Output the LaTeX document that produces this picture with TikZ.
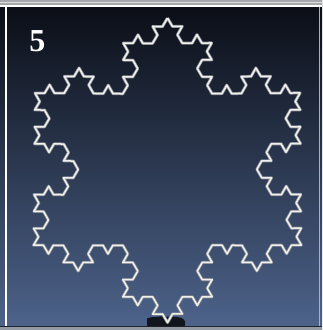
\documentclass[tikz,border=0pt]{standalone}
\usepackage{color}
\usepackage{tikz}
\usepackage{fontspec}
\setmainfont{Liberation Serif}
\usetikzlibrary{decorations.fractals}
\definecolor{slidetop}{RGB}{9,12,20}
\definecolor{slidemid}{RGB}{36,50,76}
\definecolor{slidebot}{RGB}{78,100,140}
\definecolor{framegray}{RGB}{165,167,170}
\definecolor{baseline}{RGB}{30,34,42}
\definecolor{flakeline}{RGB}{240,240,236}
\definecolor{flakeglow}{RGB}{135,140,150}
\definecolor{blobdark}{RGB}{18,22,28}

\begin{document}
\begin{tikzpicture}[x=1pt,y=1pt]
\useasboundingbox (0,0) rectangle (322,330);
% objects at depth 60:
\shade[top color=slidetop,middle color=slidemid,bottom color=slidebot] (0,0) rectangle (322,330);
% objects at depth 50:
\path[fill=framegray] (0,324.5) rectangle (322,330);
\path[fill=white] (0,322.8) rectangle (322,324.6);
\path[fill=white!60!framegray] (0,327) rectangle (322,328);
\path[fill=white] (4.8,2.8) rectangle (7.2,324);
\path[fill=framegray!80!slidebot] (0,0) rectangle (322,2.6);
\path[fill=baseline] (0,2.6) rectangle (322,3.8);
\path[fill=white!50!slidebot] (319.2,3.8) rectangle (320.4,322.8);
% objects at depth 40:
\path[fill=blobdark,rounded corners=0.8] (147,3.8) -- (147,11.8) -- (152,12.8) -- (161,13.6) -- (176,13.2) -- (182,12) -- (185,9) -- (185,3.8) -- cycle;
% objects at depth 30:
\coordinate (top) at (167.5,312);
\coordinate (right) at (301.5,84.75);
\coordinate (left) at (33.5,84.75);
\draw[flakeglow,line width=3pt,line join=round,decoration=Koch snowflake]
  decorate{decorate{decorate{(top) -- (right) -- (left) -- (top)}}};
\draw[flakeline,line width=1.5pt,line join=round,decoration=Koch snowflake]
  decorate{decorate{decorate{(top) -- (right) -- (left) -- (top)}}};
% objects at depth 20:
\node[text=white,font=\fontsize{32}{32}\selectfont\bfseries] (stage) at (37.5,289) {5};
\end{tikzpicture}
\end{document}
